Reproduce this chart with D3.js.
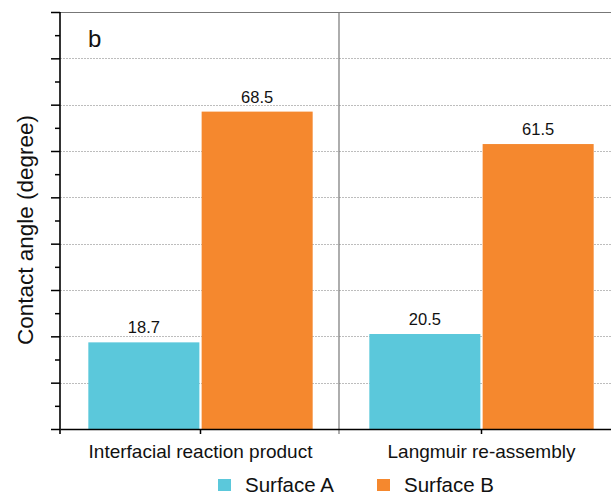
<!DOCTYPE html>
<html><head><meta charset="utf-8">
<script src="https://cdn.jsdelivr.net/npm/d3@7"></script>
<style>
html,body{margin:0;padding:0;background:#fff;overflow:hidden;}
svg{display:block;font-family:"Liberation Sans",Arial,sans-serif;}
</style></head>
<body>
<svg id="c" width="611" height="495"></svg>
<script>
const categories = ["Interfacial reaction product", "Langmuir re-assembly"];
const seriesNames = ["Surface A", "Surface B"];
const surfaceA = [18.7, 20.5];
const surfaceB = [68.5, 61.5];
const majorTicks = [0,10,20,30,40,50,60,70,80,90];
const minorTicks = [5,15,25,35,45,55,65,75,85];
const colors = ["#5bc8db", "#f5882e"];
const panelLabel = "b";
const yTitle = "Contact angle (degree)";

const svg = d3.select("#c");
const L = 60, T = 12, B = 429, R = 622;
const y = d3.scaleLinear().domain([0, 90]).range([B, T]);
const x0 = d3.scaleBand().domain(categories).range([L, R]);
const x1 = d3.scaleBand().domain(seriesNames).range([0, x0.bandwidth()]).paddingInner(0.02).paddingOuter(0.25);
const values = [surfaceA, surfaceB];

// gridlines
svg.append("g").selectAll("line").data(majorTicks.filter(d => d > 0 && d < 90)).join("line")
  .attr("x1", L).attr("x2", R).attr("y1", d => Math.round(y(d)) + 0.5).attr("y2", d => Math.round(y(d)) + 0.5)
  .attr("stroke", "#bdbdbd").attr("stroke-width", 1).attr("stroke-dasharray", "2,1");

// top border
svg.append("line").attr("x1", L).attr("x2", R).attr("y1", T + 0.5).attr("y2", T + 0.5)
  .attr("stroke", "#777").attr("stroke-width", 1.2);

// separators between categories
svg.append("g").selectAll("line").data(categories.slice(1)).join("line")
  .attr("x1", d => x0(d) - 2).attr("x2", d => x0(d) - 2).attr("y1", T).attr("y2", B + 5)
  .attr("stroke", "#777").attr("stroke-width", 1.2);

// bars
const groups = svg.append("g").selectAll("g").data(categories).join("g")
  .attr("transform", d => `translate(${x0(d)},0)`);
seriesNames.forEach((s, si) => {
  groups.append("rect")
    .attr("x", x1(s)).attr("width", x1.bandwidth())
    .attr("y", (d, i) => y(values[si][i])).attr("height", (d, i) => y(0) - y(values[si][i]))
    .attr("fill", colors[si]);
  groups.append("text")
    .attr("x", x1(s) + x1.bandwidth() / 2).attr("y", (d, i) => y(values[si][i]) - 9)
    .attr("text-anchor", "middle").attr("font-size", 16.5).attr("fill", "#111")
    .text((d, i) => values[si][i].toFixed(1));
});

// y axis
const yAxis = d3.axisLeft(y).tickValues(majorTicks).tickSize(9).tickFormat("");
const gy = svg.append("g").attr("transform", `translate(${L},0)`).call(yAxis);
gy.select(".domain").remove();
gy.selectAll(".tick line").attr("stroke", "#000").attr("stroke-width", 1.5);
const yMinor = d3.axisLeft(y).tickValues(minorTicks).tickSize(5).tickFormat("");
const gym = svg.append("g").attr("transform", `translate(${L},0)`).call(yMinor);
gym.select(".domain").remove();
gym.selectAll(".tick line").attr("stroke", "#000").attr("stroke-width", 1.5);
svg.append("line").attr("x1", L).attr("x2", L).attr("y1", T).attr("y2", B + 5)
  .attr("stroke", "#000").attr("stroke-width", 1.6);

// x axis
const xAxis = d3.axisBottom(x0).tickSize(5).tickSizeOuter(0);
const gx = svg.append("g").attr("transform", `translate(0,${B})`).call(xAxis);
gx.select(".domain").attr("stroke", "#000").attr("stroke-width", 1.6);
gx.selectAll(".tick line").attr("stroke", "#000").attr("stroke-width", 1.5);
gx.selectAll(".tick text").attr("font-size", 19).attr("fill", "#111").attr("dy", null).attr("y", 29)
  .attr("font-family", "'Liberation Sans',Arial,sans-serif");

// y title
svg.append("text").attr("transform", `translate(33,230) rotate(-90)`)
  .attr("text-anchor", "middle").attr("font-size", 22.5).attr("fill", "#111").text(yTitle);

// panel label
svg.append("text").attr("x", 88).attr("y", 47).attr("font-size", 24).attr("fill", "#111").text(panelLabel);

// legend
const legX = [218, 377];
const leg = svg.append("g").selectAll("g").data(seriesNames).join("g")
  .attr("transform", (d, i) => `translate(${legX[i]},479)`);
leg.append("rect").attr("width", 13).attr("height", 12).attr("fill", (d, i) => colors[i]);
leg.append("text").attr("x", 27).attr("y", 12.5).attr("font-size", 20.5).attr("fill", "#111").text(d => d);
</script>
</body></html>
